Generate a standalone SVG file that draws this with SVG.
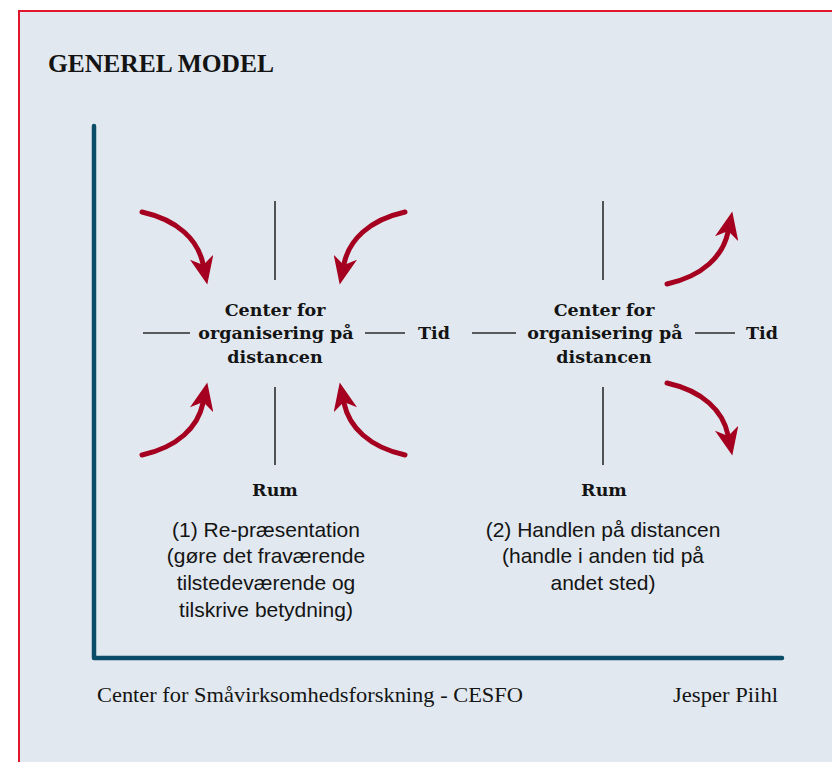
<svg xmlns="http://www.w3.org/2000/svg" width="832" height="762" viewBox="0 0 832 762">
  <defs>
    <style>
      .panel { fill: #e1e8ef; stroke: #e0162b; stroke-width: 2; }
      .axis { fill: none; stroke: #0b4d68; stroke-width: 4.5; stroke-linecap: round; stroke-linejoin: round; }
      .tick { stroke: #2b2b2b; stroke-width: 1.6; }
      .flow { fill: none; stroke: #a5001f; stroke-width: 5; stroke-linecap: round; marker-end: url(#head); }
      .title { font-family: "Liberation Serif", "DejaVu Serif", serif; font-weight: bold; font-size: 25.5px; fill: #141414; }
      .node { font-family: "DejaVu Serif", "Liberation Serif", serif; font-weight: bold; font-size: 17.5px; fill: #141414; text-anchor: middle; }
      .caption { font-family: "Liberation Sans", "Noto Sans", sans-serif; font-size: 21px; fill: #141414; text-anchor: middle; }
      .foot { font-family: "Liberation Serif", "DejaVu Serif", serif; font-size: 21px; fill: #141414; }
    </style>
    <marker id="head" markerUnits="userSpaceOnUse" viewBox="0 0 28 24" markerWidth="28" markerHeight="24" refX="7" refY="12" orient="auto">
      <path d="M0,0 L28,12 L0,24 L8,12 Z" fill="#a5001f"/>
    </marker>
  </defs>

  <!-- panel -->
  <rect class="panel" x="19" y="11" width="840" height="780"/>

  <text class="title" x="48" y="72">GENEREL MODEL</text>

  <!-- axes -->
  <g id="axes">
    <path class="axis" d="M94,126 L94,658 L782,658"/>
  </g>

  <!-- connectors: tick lines and flow arrows -->
  <g id="connectors">
    <!-- left cross -->
    <line class="tick" x1="275" y1="201" x2="275" y2="280"/>
    <line class="tick" x1="275" y1="387" x2="275" y2="465"/>
    <line class="tick" x1="143" y1="333" x2="190" y2="333"/>
    <line class="tick" x1="365" y1="333" x2="405" y2="333"/>
    <!-- right cross -->
    <line class="tick" x1="603" y1="201" x2="603" y2="280"/>
    <line class="tick" x1="603" y1="387" x2="603" y2="465"/>
    <line class="tick" x1="472" y1="333" x2="516" y2="333"/>
    <line class="tick" x1="695" y1="333" x2="735" y2="333"/>

    <!-- inward arrows -->
    <path class="flow" d="M142,212 C178,220 198,240 203,264"/>
    <path class="flow" d="M405,212 C369,220 349,240 344,264"/>
    <path class="flow" d="M142,455 C178,447 198,427 203,403"/>
    <path class="flow" d="M405,455 C369,447 349,427 344,403"/>
    <!-- outward arrows -->
    <path class="flow" d="M667,284 C703,276 723,256 728,232"/>
    <path class="flow" d="M667,383 C703,391 723,411 728,435"/>
  </g>

  <g id="center-1">
    <text class="node" x="275" y="316">Center for</text>
    <text class="node" x="276" y="339">organisering på</text>
    <text class="node" x="275" y="363">distancen</text>
  </g>
  <g id="tid-1"><text class="node" x="434" y="339">Tid</text></g>
  <g id="rum-1"><text class="node" x="275" y="496">Rum</text></g>

  <g id="center-2">
    <text class="node" x="604" y="316">Center for</text>
    <text class="node" x="605" y="339">organisering på</text>
    <text class="node" x="604" y="363">distancen</text>
  </g>
  <g id="tid-2"><text class="node" x="762" y="339">Tid</text></g>
  <g id="rum-2"><text class="node" x="604" y="496">Rum</text></g>

  <g id="caption-1">
    <text class="caption" x="266" y="537">(1) Re-præsentation</text>
    <text class="caption" x="266" y="563">(gøre det fraværende</text>
    <text class="caption" x="266" y="590">tilstedeværende og</text>
    <text class="caption" x="266" y="617">tilskrive betydning)</text>
  </g>
  <g id="caption-2">
    <text class="caption" x="603" y="537">(2) Handlen på distancen</text>
    <text class="caption" x="603" y="563">(handle i anden tid på</text>
    <text class="caption" x="603" y="590">andet sted)</text>
  </g>

  <g id="footer">
    <text class="foot" x="97" y="702" textLength="426" lengthAdjust="spacingAndGlyphs">Center for Småvirksomhedsforskning - CESFO</text>
    <text class="foot" x="673" y="702" textLength="105" lengthAdjust="spacingAndGlyphs">Jesper Piihl</text>
  </g>
</svg>
